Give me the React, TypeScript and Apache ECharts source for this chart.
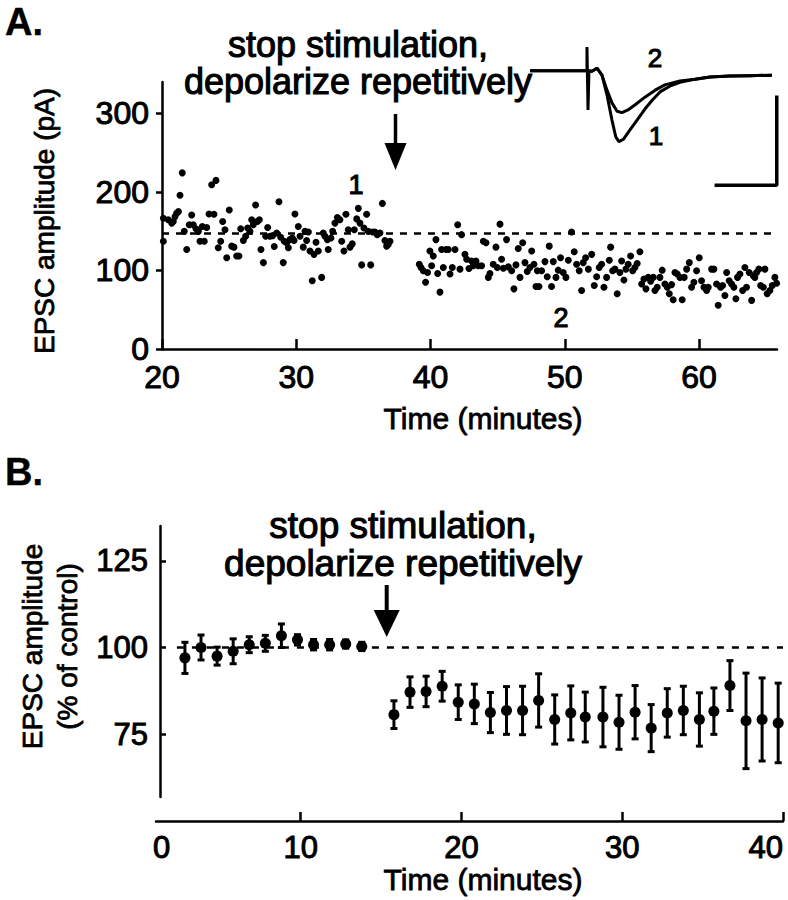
import React, { useEffect, useRef } from "react";
import * as echarts from "echarts";

// ---------- Panel A: EPSC amplitude (pA) vs time (min) ----------
const preTimeA = [
  20.10, 20.10, 20.47, 20.72, 20.84, 20.97, 21.09, 21.22, 21.34, 21.51,
  21.66, 21.84, 22.03, 22.21, 22.33, 22.53, 22.71, 22.83, 23.00, 23.15,
  23.33, 23.50, 23.70, 23.87, 24.02, 24.19, 24.37, 24.52, 24.69, 24.82,
  25.01, 25.19, 25.36, 25.56, 25.73, 25.86, 26.06, 26.23, 26.38, 26.55,
  26.68, 26.80, 26.97, 27.10, 27.25, 27.37, 27.55, 27.72, 27.87, 28.04,
  28.24, 28.36, 28.54, 28.71, 28.84, 29.03, 29.11, 29.28, 29.41, 29.53,
  29.70, 29.83, 29.90, 30.15, 30.28, 30.52, 30.65, 30.77, 30.90, 31.02,
  31.19, 31.32, 31.47, 31.64, 31.89, 32.01, 32.14, 32.31, 32.38, 32.58,
  32.71, 32.88, 33.06, 33.25, 33.38, 33.55, 33.70, 33.87, 34.00, 34.17,
  34.32, 34.50, 34.62, 34.74, 34.87, 35.04, 35.24, 35.36, 35.54, 35.69,
  35.86, 36.03, 36.23, 36.41, 36.60, 36.73, 36.85, 36.98,
];
const preAmpA = [
  166.5, 137.2, 164.5, 160.3, 162.4, 168.6, 172.8, 174.9, 195.8, 224.3,
  149.8, 126.8, 158.2, 170.7, 158.2, 153.2, 149.8, 137.2, 156.1, 137.2,
  154.8, 172.0, 209.2, 171.6, 214.7, 128.9, 137.2, 162.4, 151.9, 116.3,
  177.0, 131.0, 129.7, 118.4, 118.4, 153.2, 138.1, 143.5, 154.0, 149.8,
  164.5, 158.2, 183.3, 162.4, 164.5, 126.8, 110.0, 143.5, 154.8, 143.5,
  144.4, 130.6, 147.7, 187.5, 142.3, 110.0, 137.2, 135.2, 128.9, 139.3,
  141.4, 138.1, 172.0, 156.1, 143.5, 129.7, 149.8, 138.1, 149.0, 124.7,
  87.0, 120.5, 136.0, 124.7, 91.2, 147.7, 143.5, 139.3, 126.8, 141.4,
  149.8, 160.3, 167.4, 164.5, 137.2, 124.7, 171.6, 151.9, 129.7, 133.9,
  151.9, 165.7, 179.1, 160.3, 107.1, 154.0, 171.6, 149.8, 107.1, 149.0,
  149.0, 145.6, 147.7, 185.4, 138.1, 131.0, 133.1, 137.2,
];
const postTimeA = [
  39.16, 39.29, 39.46, 39.63, 39.78, 39.95, 40.08, 40.20, 40.40, 40.53,
  40.70, 40.82, 40.95, 41.15, 41.32, 41.45, 41.62, 41.82, 42.02, 42.19,
  42.31, 42.56, 42.69, 42.86,
  43.06, 43.18, 43.38, 43.55, 43.80, 43.93, 44.13, 44.30, 44.42, 44.67,
  44.87, 44.97, 45.17, 45.29, 45.42, 45.66, 45.79, 46.04, 46.21, 46.36,
  46.53, 46.66, 46.86, 47.03, 47.20, 47.40, 47.53, 47.70, 47.85, 47.95,
  48.07, 48.27, 48.52, 48.69, 48.84, 49.01, 49.14, 49.34, 49.51, 49.68,
  49.88, 50.08, 50.26, 50.50, 50.70, 50.88, 51.07, 51.25, 51.37, 51.55,
  51.75, 52.00, 52.19, 52.37, 52.56, 52.74, 52.91, 53.11, 53.31, 53.41,
  53.56, 53.73, 53.90, 54.10, 54.23, 54.40, 54.55, 54.72, 54.90, 55.05,
  55.22, 55.39, 55.59, 55.72, 55.89, 56.04, 56.21, 56.39, 56.58, 56.71,
  56.88, 57.08, 57.25, 57.45, 57.63, 57.78, 57.95, 58.07, 58.20, 58.37,
  58.57, 58.74, 58.89, 59.07, 59.27, 59.44, 59.61, 59.81, 60.01, 60.18,
  60.36, 60.56, 60.68, 60.93, 61.10, 61.30, 61.42, 61.60, 61.75, 61.92,
  62.05, 62.24, 62.42, 62.59, 62.74, 62.86, 63.04, 63.24, 63.41, 63.53,
  63.73, 63.91, 64.03, 64.15, 64.28, 64.45, 64.58, 64.78, 64.90, 65.07,
  65.27, 65.45, 65.64, 65.77,
];
const postAmpA = [
  108.0, 103.8, 99.6, 84.9, 97.5, 124.7, 105.9, 118.4, 139.3, 96.2,
  72.4, 126.8, 103.8, 126.8, 126.8, 95.4, 103.8, 126.8, 158.2, 101.7,
  145.6, 120.5, 114.2, 102.5,
  112.1, 105.9, 112.1, 105.9, 105.9, 137.2, 135.2, 91.2, 96.2, 108.0,
  129.7, 103.8, 159.0, 114.2, 102.9, 139.3, 104.6, 99.6, 76.6, 107.1,
  128.0, 91.2, 135.2, 110.0, 98.7, 103.8, 124.7, 108.0, 79.5, 99.6,
  79.5, 99.6, 111.3, 92.0, 131.0, 79.5, 111.3, 91.2, 100.4, 116.3,
  97.5, 91.2, 113.0, 149.0, 123.9, 108.0, 99.6, 74.5, 110.0, 116.3,
  101.7, 120.5, 80.8, 92.0, 103.8, 108.0, 78.7, 91.2, 113.0, 129.7,
  99.6, 101.7, 70.3, 97.5, 112.1, 87.9, 101.7, 108.0, 118.4, 99.6,
  103.8, 108.8, 123.9, 82.8, 89.1, 76.6, 91.2, 86.2, 91.2, 74.5,
  78.7, 91.2, 100.4, 82.8, 78.7, 70.3, 82.0, 62.8, 97.5, 95.4,
  91.2, 62.8, 91.2, 101.7, 110.0, 78.7, 84.9, 99.6, 116.3, 87.0,
  78.7, 74.5, 78.7, 101.7, 101.7, 82.8, 55.6, 78.7, 80.8, 68.2,
  97.5, 87.0, 82.8, 78.7, 64.0, 91.2, 95.4, 74.5, 103.8, 78.7,
  97.5, 61.9, 93.3, 91.2, 97.5, 101.7, 80.8, 78.7, 101.7, 70.3,
  74.5, 80.8, 91.2, 83.7,
];
const baselineA = 147;
const xTicksA = [20, 30, 40, 50, 60];
const yTicksA = [0, 100, 200, 300];

// ---------- Inset: EPSC traces (ms, pA) ----------
const trace1Time = [0, 9.42, 9.42, 9.59, 9.75, 10.25, 11.07, 11.9, 12.73, 13.55, 14.2, 14.7, 15.5, 16.5, 17.7, 19.0, 20.2, 21.5, 23.1, 24.8, 27.3, 29.75, 33.05, 36.4, 40];
const trace1Amp = [0, 0, 54, -89, 0, -1, 6, -10, -55, -112, -151, -161, -155, -135, -112, -87, -67, -48, -35, -26, -19, -14, -12, -11, -10];
const trace2Time = [0, 9.42, 10.25, 11.07, 11.9, 12.73, 13.55, 14.4, 15.2, 16.2, 17.5, 19.0, 20.7, 22.3, 24.8, 27.3, 29.75, 33.05, 36.4, 40];
const trace2Amp = [0, 0, -1, 6, -10, -44, -73, -92, -95, -89, -76, -60, -44, -32, -23, -19, -14, -12, -11, -10];
const scaleBarTime = [30.8, 40.8, 40.8];
const scaleBarAmp = [-260, -260, -60];

// ---------- Panel B: EPSC amplitude (% of control) ----------
const timeB = [
  2.8, 3.8, 4.8, 5.8, 6.8, 7.8, 8.8, 9.8, 10.8, 11.8, 12.8, 13.8,
  15.8, 16.8, 17.8, 18.8, 19.8, 20.8, 21.8, 22.8, 23.8, 24.8, 25.8, 26.8,
  27.7, 28.8, 29.8, 30.8, 31.8, 32.8, 33.8, 34.8, 35.7, 36.7, 37.7, 38.7, 39.7,
];
const meanB = [
  97.0, 100.0, 97.5, 98.9, 100.8, 101.2, 103.4, 102.2, 100.8, 100.8, 101.0, 100.3,
  80.6, 87.1, 87.3, 88.8, 84.2, 83.7, 81.2, 81.8, 81.8, 84.7, 79.2, 81.1,
  79.9, 79.9, 78.4, 81.3, 76.7, 81.1, 81.8, 79.2, 81.6, 89.0, 78.8, 79.2, 78.2,
];
const semB = [
  4.5, 3.6, 2.6, 3.6, 2.3, 2.3, 3.4, 1.5, 1.5, 1.5, 1.2, 1.2,
  4.0, 4.4, 4.4, 4.3, 5.0, 5.7, 5.8, 6.9, 7.0, 7.7, 7.1, 7.8,
  7.2, 8.6, 7.8, 7.7, 6.8, 7.0, 7.0, 7.7, 6.7, 7.2, 13.8, 12.0, 11.5,
];
const controlB = 100;
const xTicksB = [10, 20, 30, 40];
const xLabelsB = [1.35, 10, 20, 30, 40];
const yTicksB = [75, 100, 125];

const FONT = '"Liberation Sans", Arial, Helvetica, sans-serif';
const BLACK = "#000";

export default function App() {
  const ref = useRef<HTMLDivElement>(null);

  useEffect(() => {
    if (!ref.current) return;
    const chart = echarts.init(ref.current, null, { renderer: "svg" });

    const axisLine = { show: true, lineStyle: { color: BLACK, width: 2.5 } };
    const lbl = (size: number) => ({
      color: BLACK,
      fontSize: size,
      fontFamily: FONT,
      textBorderColor: BLACK,
      textBorderWidth: 1,
    });
    const title = (size: number) => ({
      color: BLACK,
      fontSize: size,
      fontFamily: FONT,
      textBorderColor: BLACK,
      textBorderWidth: 0.8,
    });

    const txt = (text: string, x: number, y: number, size: number, opts: any = {}) => ({
      type: "text",
      x,
      y,
      silent: true,
      style: {
        text,
        fill: BLACK,
        fontSize: size,
        fontFamily: FONT,
        fontWeight: opts.bold ? "bold" : "normal",
        align: opts.align || "center",
        verticalAlign: "middle",
        stroke: BLACK,
        lineWidth: opts.stroke ?? 1.1,
      },
    });

    const arrow = (x: number, top: number, headTop: number, tip: number, hw: number, sw: number) => ({
      type: "group",
      silent: true,
      children: [
        { type: "rect", shape: { x: x - sw / 2, y: top, width: sw, height: headTop - top + 2 }, style: { fill: BLACK } },
        { type: "polygon", shape: { points: [[x - hw, headTop], [x + hw, headTop], [x, tip]] }, style: { fill: BLACK } },
      ],
    });

    const option: any = {
      animation: false,
      backgroundColor: "#fff",
      textStyle: { fontFamily: FONT, color: BLACK },
      grid: [
        { left: 162, top: 82, width: 615, height: 267 },
        { left: 156, top: 526, width: 627, height: 271 },
        { left: 530, top: 40, width: 251, height: 150 },
      ],
      xAxis: [
        {
          gridIndex: 0,
          type: "value",
          min: 20,
          max: 65.8,
          axisLine,
          axisTick: { show: true, inside: true, length: 10, lineStyle: { color: BLACK, width: 2.5 }, customValues: xTicksA },
          axisLabel: { ...lbl(32), margin: 12, customValues: xTicksA },
          splitLine: { show: false },
          name: "Time (minutes)",
          nameLocation: "middle",
          nameGap: 54,
          nameTextStyle: { ...title(30), padding: [0, 0, 0, 27] },
        },
        {
          gridIndex: 1,
          type: "value",
          min: 1,
          max: 40,
          offset: 24,
          axisLine,
          axisTick: { show: true, inside: true, length: 9, lineStyle: { color: BLACK, width: 2.5 }, customValues: xTicksB },
          axisLabel: {
            ...lbl(31),
            margin: 11,
            customValues: xLabelsB,
            alignMaxLabel: "right",
            formatter: (v: number) => (v < 5 ? "0" : String(v)),
          },
          splitLine: { show: false },
          name: "Time (minutes)",
          nameLocation: "middle",
          nameGap: 41,
          nameTextStyle: { ...title(30), padding: [0, 0, 0, 27] },
        },
        { gridIndex: 2, type: "value", min: 0, max: 41.5, show: false },
      ],
      yAxis: [
        {
          gridIndex: 0,
          type: "value",
          min: 0,
          max: 340,
          axisLine,
          axisTick: { show: true, inside: false, length: 6, lineStyle: { color: BLACK, width: 2.5 }, customValues: yTicksA },
          axisLabel: { ...lbl(32), margin: 13, customValues: yTicksA },
          splitLine: { show: false },
          name: "EPSC amplitude (pA)",
          nameLocation: "middle",
          nameGap: 104,
          nameTextStyle: { ...title(28), padding: [0, 11, 0, 0] },
        },
        {
          gridIndex: 1,
          type: "value",
          min: 56.8,
          max: 135.1,
          offset: -4,
          axisLine,
          axisTick: { show: true, inside: true, length: 6, lineStyle: { color: BLACK, width: 2.5 }, customValues: yTicksB },
          axisLabel: { ...lbl(31), margin: 12, customValues: yTicksB },
          splitLine: { show: false },
          name: "EPSC amplitude\n(% of control)",
          nameLocation: "middle",
          nameGap: 47,
          nameTextStyle: { ...title(28), lineHeight: 35, padding: [0, 0, 0, 30] },
        },
        { gridIndex: 2, type: "value", min: -271, max: 70, show: false },
      ],
      series: [
        {
          name: "before",
          type: "scatter",
          xAxisIndex: 0,
          yAxisIndex: 0,
          symbolSize: 7,
          itemStyle: { color: BLACK, opacity: 1 },
          data: preTimeA.map((t, i) => [t, preAmpA[i]]),
          markLine: {
            silent: true,
            symbol: "none",
            label: { show: false },
            lineStyle: { color: BLACK, width: 2.5, type: [7, 7], opacity: 1 },
            data: [{ yAxis: baselineA }],
          },
          z: 3,
        },
        {
          name: "after",
          type: "scatter",
          xAxisIndex: 0,
          yAxisIndex: 0,
          symbolSize: 7,
          itemStyle: { color: BLACK, opacity: 1 },
          data: postTimeA.map((t, i) => [t, postAmpA[i]]),
          z: 3,
        },
        {
          name: "trace 1",
          type: "line",
          xAxisIndex: 2,
          yAxisIndex: 2,
          showSymbol: false,
          symbol: "none",
          lineStyle: { color: BLACK, width: 3 },
          data: trace1Time.map((t, i) => [t, trace1Amp[i]]),
        },
        {
          name: "trace 2",
          type: "line",
          xAxisIndex: 2,
          yAxisIndex: 2,
          showSymbol: false,
          symbol: "none",
          lineStyle: { color: BLACK, width: 3 },
          data: trace2Time.map((t, i) => [t, trace2Amp[i]]),
        },
        {
          name: "scale bar",
          type: "line",
          xAxisIndex: 2,
          yAxisIndex: 2,
          showSymbol: false,
          symbol: "none",
          lineStyle: { color: BLACK, width: 3.5, cap: "square" },
          data: scaleBarTime.map((t, i) => [t, scaleBarAmp[i]]),
        },
        {
          name: "sem",
          type: "custom",
          xAxisIndex: 1,
          yAxisIndex: 1,
          clip: false,
          data: timeB.map((t, i) => [t, meanB[i] - semB[i], meanB[i] + semB[i]]),
          encode: { x: 0, y: [1, 2] },
          renderItem: (params: any, api: any) => {
            const x = api.value(0);
            const lo = api.coord([x, api.value(1)]);
            const hi = api.coord([x, api.value(2)]);
            const hw = 3.5;
            const style = { stroke: BLACK, lineWidth: 3, fill: "none" };
            return {
              type: "group",
              children: [
                { type: "line", shape: { x1: lo[0], y1: lo[1], x2: hi[0], y2: hi[1] }, style },
                { type: "line", shape: { x1: lo[0] - hw, y1: lo[1], x2: lo[0] + hw, y2: lo[1] }, style },
                { type: "line", shape: { x1: hi[0] - hw, y1: hi[1], x2: hi[0] + hw, y2: hi[1] }, style },
              ],
            };
          },
          z: 2,
        },
        {
          name: "mean",
          type: "scatter",
          xAxisIndex: 1,
          yAxisIndex: 1,
          symbolSize: 11,
          itemStyle: { color: BLACK, opacity: 1 },
          data: timeB.map((t, i) => [t, meanB[i]]),
          markLine: {
            silent: true,
            symbol: "none",
            label: { show: false },
            lineStyle: { color: BLACK, width: 2.5, type: [7, 8], opacity: 1 },
            data: [[{ coord: [2.3, controlB] }, { coord: [40, controlB] }]],
          },
          z: 3,
        },
      ],
      graphic: [
        txt("A.", 5, 22, 38, { bold: true, align: "left", stroke: 0.4 }),
        txt("B.", 5, 472, 38, { bold: true, align: "left", stroke: 0.4 }),
        txt("stop stimulation,", 358, 44, 36),
        txt("depolarize repetitively", 358, 81, 36),
        arrow(395.5, 114, 143, 170, 11, 3.5),
        txt("stop stimulation,", 403, 525, 37),
        txt("depolarize repetitively", 403, 563, 37),
        arrow(386.7, 585, 610, 637, 13, 4),
        txt("1", 356, 185, 27),
        txt("2", 561, 318, 27),
        txt("2", 655, 58, 26),
        txt("1", 656, 136, 26),
      ],
    };

    chart.setOption(option);
    return () => chart.dispose();
  }, []);

  return (
    <div
      ref={ref}
      style={{ position: "absolute", left: 0, top: 0, width: 788, height: 900, background: "#fff" }}
    />
  );
}
